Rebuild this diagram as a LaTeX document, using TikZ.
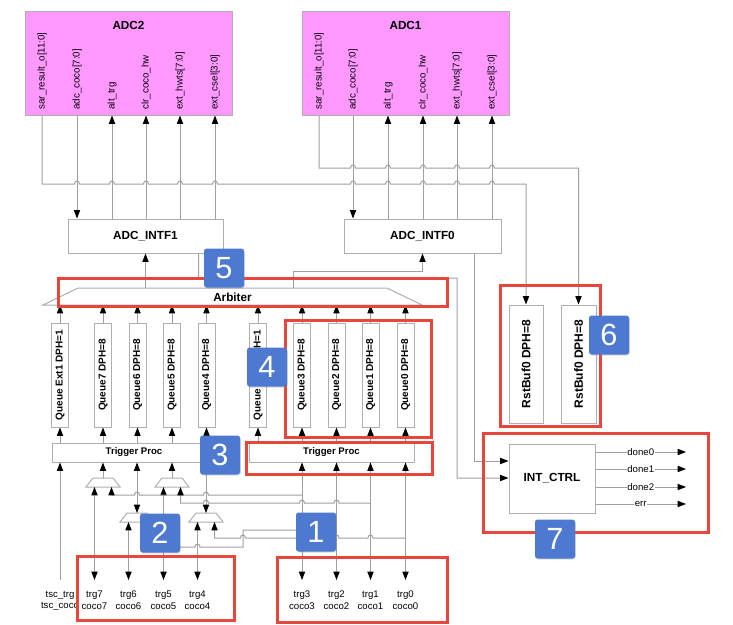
\documentclass[tikz,border=0pt]{standalone}
\usepackage{fontspec}
\setmainfont{Liberation Sans}
\usetikzlibrary{arrows.meta,calc,shadows}

\definecolor{wiregrey}{RGB}{160,160,160}
\definecolor{boxgrey}{RGB}{175,175,175}
\definecolor{adcpink}{RGB}{255,153,255}
\definecolor{markred}{RGB}{232,69,60}
\definecolor{tagblue}{RGB}{78,121,208}

\tikzset{every picture/.style={line width=0.75pt}}
\tikzset{
  sz/.style 2 args={minimum width={#1*0.75pt},minimum height={#2*0.75pt}},
  wire/.style={draw=wiregrey},
  blk/.style={draw=boxgrey, fill=white, inner sep=0pt},
  adc/.style={draw=boxgrey, fill=adcpink, inner sep=0pt},
  ttl/.style={font=\fontsize{8.8}{10}\selectfont\bfseries, inner sep=0pt},
  port/.style={font=\fontsize{7.3}{8.6}\selectfont, rotate=90, anchor=west, inner sep=0pt},
  queue/.style={blk, rotate=90, font=\fontsize{7.5}{9}\selectfont\bfseries},
  rbuf/.style={blk, rotate=90, font=\fontsize{9}{10}\selectfont\bfseries},
  tproc/.style={blk, font=\fontsize{7.2}{8.6}\selectfont\bfseries},
  iolbl/.style={font=\fontsize{7.2}{8.6}\selectfont, align=center, anchor=north, inner sep=0pt, outer ysep=8.25pt},
  sig/.style={font=\fontsize{7.2}{8.6}\selectfont, fill=white, inner sep=0.5pt},
  hilite/.style={draw=markred, line width=2.25pt},
  tag/.style={fill=tagblue, text=white, rounded corners=2pt, sz={40}{39}, inner sep=0pt,
    font=\fontsize{23}{23}\selectfont, drop shadow={opacity=0.3, shadow xshift=0.6pt, shadow yshift=-0.8pt}},
}

\begin{document}
\begin{tikzpicture}[x=0.75pt,y=0.75pt,yscale=-1,xscale=1,>={Triangle[length=6.2pt,width=4.6pt,color=black]}]
\useasboundingbox (0,0) rectangle (733,625);

% ADC2
\node[adc, sz={207}{104}] (adc2) at (128.5,63) {};
\node[ttl] (adc2t) at (128.5,25) {ADC2};
\node[port] (a2sar) at (42,110) {sar\_result\_o[11:0]};
\node[port] (a2coco) at (77,110) {adc\_coco[7:0]};
\node[port] (a2alt) at (112,110) {alt\_trg};
\node[port] (a2clr) at (146,110) {clr\_coco\_hw};
\node[port] (a2hw) at (180,110) {ext\_hwts[7:0]};
\node[port] (a2cs) at (215,110) {ext\_csel[3:0]};

% ADC1
\node[adc, sz={207}{104}] (adc1) at (405.5,63) {};
\node[ttl] (adc1t) at (405.5,25) {ADC1};
\node[port] (a1sar) at (319,110) {sar\_result\_o[11:0]};
\node[port] (a1coco) at (353,110) {adc\_coco[7:0]};
\node[port] (a1alt) at (388,110) {alt\_trg};
\node[port] (a1clr) at (423,110) {clr\_coco\_hw};
\node[port] (a1hw) at (457,110) {ext\_hwts[7:0]};
\node[port] (a1cs) at (492,110) {ext\_csel[3:0]};

% interfaces
\node[blk, ttl, sz={155}{34}] (intf1) at (145.5,236) {ADC\_INTF1};
\node[blk, ttl, sz={157}{34}] (intf0) at (422.5,236) {ADC\_INTF0};

% Arbiter
\draw[draw=boxgrey, fill=white] (43,305) -- (78,288) -- (387,288) -- (422,305) -- cycle;
\node[ttl] (arb) at (232.5,297) {Arbiter};
\coordinate (arbt) at (232.5,288);
\coordinate (arbb) at (232.5,305);

% queues
\node[queue, sz={104}{17}] (qx1) at (60,375) {Queue Ext1 DPH=1};
\node[queue, sz={104}{17}] (q7) at (103,375) {Queue7 DPH=8};
\node[queue, sz={104}{17}] (q6) at (137.5,375) {Queue6 DPH=8};
\node[queue, sz={104}{17}] (q5) at (172,375) {Queue5 DPH=8};
\node[queue, sz={104}{17}] (q4) at (206.5,375) {Queue4 DPH=8};
\node[queue, sz={104}{17}] (qx0) at (258,375) {Queue Ext0 DPH=1};
\node[queue, sz={104}{17}] (q3) at (302,375) {Queue3 DPH=8};
\node[queue, sz={104}{17}] (q2) at (336.5,375) {Queue2  DPH=8};
\node[queue, sz={104}{17}] (q1) at (370.5,375) {Queue1 DPH=8};
\node[queue, sz={104}{17}] (q0) at (405.5,375) {Queue0 DPH=8};

% trigger processing
\node[tproc, sz={164}{19}] (tpl) at (134,452.5) {Trigger Proc};
\node[tproc, sz={165}{19}] (tpr) at (331.5,452.5) {Trigger Proc};

% muxes
\foreach \m/\cx/\cy in {A/103/478,B/137/513,C/172/478,D/206/513}{
  \draw[draw=boxgrey, fill=white] (\cx-17,\cy+9) -- (\cx-10,\cy) -- (\cx+10,\cy) -- (\cx+17,\cy+9) -- cycle;
  \coordinate (mx\m o) at (\cx,\cy);
  \coordinate (mx\m l) at (\cx-8.5,\cy+9);
  \coordinate (mx\m r) at (\cx+8.5,\cy+9);
}

% pins
\node[iolbl] (ltsc) at (60,580) {tsc\_trg\\tsc\_coco};
\node[iolbl] (l7) at (94.5,580) {trg7\\coco7};
\node[iolbl] (l6) at (128.5,580) {trg6\\coco6};
\node[iolbl] (l5) at (163.5,580) {trg5\\coco5};
\node[iolbl] (l4) at (197.5,580) {trg4\\coco4};
\node[iolbl] (l3) at (302,580) {trg3\\coco3};
\node[iolbl] (l2) at (336.5,580) {trg2\\coco2};
\node[iolbl] (l1) at (370.5,580) {trg1\\coco1};
\node[iolbl] (l0) at (405.5,580) {trg0\\coco0};

% result buffers and interrupt control
\node[rbuf, sz={118}{34}] (rb1) at (526,364) {RstBuf0 DPH=8};
\node[rbuf, sz={118}{35}] (rb0) at (578.5,364) {RstBuf0 DPH=8};
\node[blk, ttl, sz={86}{69}] (ictl) at (552,478.5) {INT\_CTRL};
\coordinate (d0) at (686,452);
\coordinate (d1) at (686,469);
\coordinate (d2) at (686,487);
\coordinate (de) at (686,504);
\draw[wire,->] (ictl.east |- d0) -- (d0) node[sig, midway] {done0};
\draw[wire,->] (ictl.east |- d1) -- (d1) node[sig, midway] {done1};
\draw[wire,->] (ictl.east |- d2) -- (d2) node[sig, midway] {done2};
\draw[wire,->] (ictl.east |- de) -- (de) node[sig, midway] {err};

% ADC <-> interfaces
\draw[wire,->] (adc2.south -| a2coco) -- (intf1.north -| a2coco);
\foreach \p in {a2alt,a2clr,a2hw,a2cs} \draw[wire,->] (intf1.north -| \p) -- (adc2.south -| \p);
\draw[wire,->] (adc1.south -| a1coco) -- (intf0.north -| a1coco);
\foreach \p in {a1alt,a1clr,a1hw,a1cs} \draw[wire,->] (intf0.north -| \p) -- (adc1.south -| \p);

% results to buffers
\draw[wire,->] (adc2.south -| a2sar) -- (a2sar |- 0,184)
  \foreach \h in {77,112,146,180,215,353,388,423,457,492}{ -- (\h-2.5,184) .. controls +(0,-4) and +(0,-4) .. (\h+2.5,184) }
  -- (rb1 |- 0,184) -- (rb1.east);
\draw[wire,->] (adc1.south -| a1sar) -- (a1sar |- 0,168)
  \foreach \h in {353,388,423,457,492}{ -- (\h-2.5,168) .. controls +(0,-4) and +(0,-4) .. (\h+2.5,168) }
  -- (rb0 |- 0,168) -- (rb0.east);

% arbiter outputs
\draw[wire,->] (arbt -| intf1) -- (intf1.south);
\draw[wire,->] ($(arbt)+(60.5,0)$) -- ++(0,-17) -| (intf0.south);
\draw[wire,->] ($(intf1.south east)+(-25,0)$) -- ++(0,25) -- (457,278) |- (ictl.west |- 0,478);
\draw[wire,->] ($(intf0.south east)+(-27,0)$) |- (ictl.west |- 0,461);

% queue inputs and outputs
\foreach \q in {qx1,q7,q6,q5,q4} \draw[wire,->] (tpl.north -| \q) -- (\q.west);
\foreach \q in {qx0,q3,q2,q1,q0} \draw[wire,->] (tpr.north -| \q) -- (\q.west);
\foreach \q in {qx1,q7,q6,q5,q4,qx0,q3,q2,q1,q0} \draw[wire,->] (\q.east) -- (arbb -| \q);

% trigger inputs
\draw[wire,->] (ltsc.north) -- (tpl.south -| ltsc);
\draw[wire,->] (mxAo) -- (tpl.south -| mxAo);
\draw[wire,->] (mxCo) -- (tpl.south -| mxCo);
\draw[wire,<->] (tpl.south -| mxBo) -- (mxBo);
\draw[wire,<->] (tpl.south -| mxDo) -- (mxDo);
\draw[wire,<->] (mxAl) -- (l7.north);
\draw[wire,<->] (mxBl) -- (l6.north);
\draw[wire,<->] (mxCl) -- (l5.north);
\draw[wire,<->] (mxDl) -- (l4.north);
\foreach \l in {l3,l2,l1,l0} \draw[wire,<->] (tpr.south -| \l) -- (\l.north);

% mux second inputs
\draw[wire,<-] (mxAr) -- (mxAr |- 0,495)
  \foreach \h in {137,206}{ -- (\h-2.5,495) .. controls +(0,-4) and +(0,-4) .. (\h+2.5,495) } -- (l3 |- 0,495);
\draw[wire,<-] (mxCr) -- (mxCr |- 0,503)
  \foreach \h in {206,302,336.5}{ -- (\h-2.5,503) .. controls +(0,-4) and +(0,-4) .. (\h+2.5,503) } -- (l1 |- 0,503);
\draw[wire,<-] (mxBr) -- (mxBr |- 0,547)
  \foreach \h in {163.5,197.5}{ -- (\h-2.5,547) .. controls +(0,-4) and +(0,-4) .. (\h+2.5,547) } -- (243,547) -- (243,530)
  \foreach \h in {302}{ -- (\h-2.5,530) .. controls +(0,-4) and +(0,-4) .. (\h+2.5,530) } -- (l2 |- 0,530);
\draw[wire,<-] (mxDr) -- (mxDr |- 0,538)
  \foreach \h in {243,302,336.5,370.5}{ -- (\h-2.5,538) .. controls +(0,-4) and +(0,-4) .. (\h+2.5,538) } -- (l0 |- 0,538);

% highlight frames
\draw[hilite] (58,278) rectangle (447,306);
\draw[hilite] (285,320) rectangle (431,437);
\draw[hilite] (246,442) rectangle (432,474);
\draw[hilite] (77,556) rectangle (234,620);
\draw[hilite] (277,557) rectangle (447,622);
\draw[hilite] (500,285) rectangle (600,426);
\draw[hilite] (483,433) rectangle (708,532);

% step tags
\node[tag] (b5) at (224,268) {5};
\node[tag] (b4) at (267,367) {4};
\node[tag] (b3) at (220,455) {3};
\node[tag] (b2) at (160,533) {2};
\node[tag] (b1) at (316,532) {1};
\node[tag] (b6) at (609,335) {6};
\node[tag] (b7) at (555,539) {7};

\end{tikzpicture}
\end{document}
